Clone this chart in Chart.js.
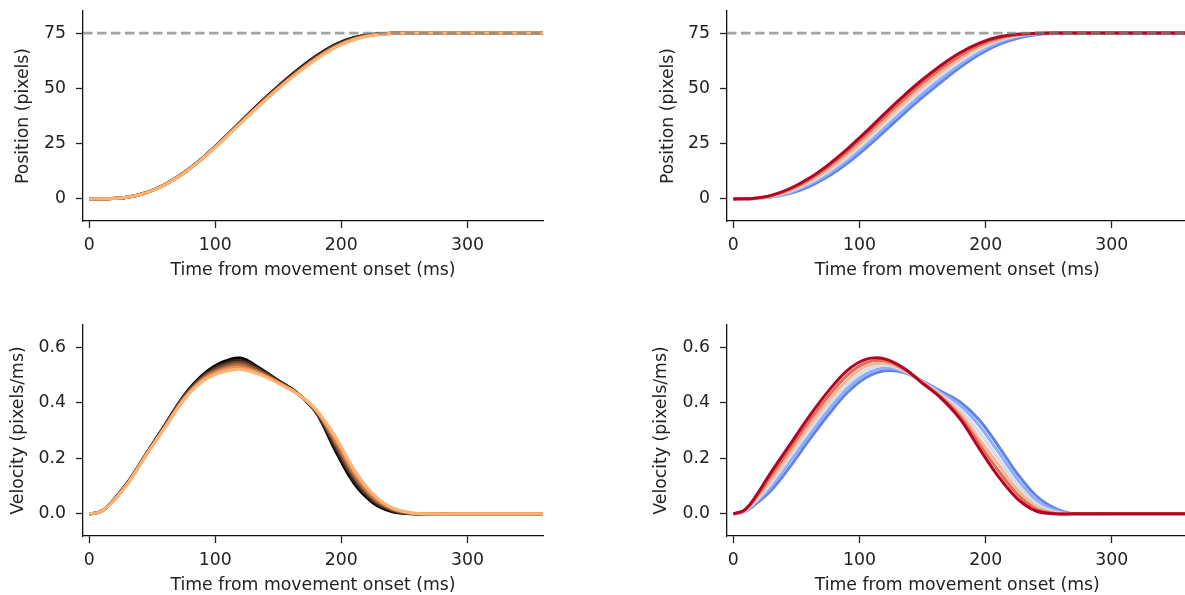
<!DOCTYPE html>
<html>
<head>
<meta charset="utf-8">
<script src="https://cdn.jsdelivr.net/npm/chart.js@4.4.0/dist/chart.umd.min.js"></script>
<style>
  html, body { margin: 0; padding: 0; background: #fff; width: 1185px; height: 595px; overflow: hidden; position: relative; }
  canvas { position: absolute; }
</style>
</head>
<body>
<canvas id="posA" width="560" height="300" style="left:0;top:0"></canvas>
<canvas id="posB" width="560" height="300" style="left:640px;top:0"></canvas>
<canvas id="velA" width="560" height="300" style="left:0;top:310px"></canvas>
<canvas id="velB" width="560" height="300" style="left:640px;top:310px"></canvas>
<script>
// sample times (ms from movement onset)
var times = [0, 8, 15, 30, 45, 60, 75, 90, 105, 120, 135, 150, 165, 180, 195, 210, 225, 240, 255, 270, 300, 330, 360];
var xTicks = [0, 100, 200, 300];
var posTicks = [0, 25, 50, 75];
var velTicks = [0, 0.2, 0.4, 0.6];
var targetPos = 75;

// left column, copper traces (dark -> light)
var leftPos = [
  [0, 0.02, 0.1, 0.7, 2.8, 6.5, 11.8, 18.6, 26.5, 34.9, 43.2, 51.0, 58.2, 64.6, 69.8, 73.0, 74.5, 74.95, 75, 75, 75, 75, 75],
  [0, 0.02, 0.1, 0.7, 2.8, 6.5, 11.8, 18.5, 26.4, 34.7, 43.0, 50.8, 57.9, 64.3, 69.5, 72.8, 74.4, 74.9, 75, 75, 75, 75, 75],
  [0, 0.02, 0.1, 0.7, 2.8, 6.5, 11.7, 18.5, 26.3, 34.6, 42.8, 50.5, 57.6, 64.0, 69.2, 72.6, 74.3, 74.9, 75, 75, 75, 75, 75],
  [0, 0.02, 0.1, 0.7, 2.7, 6.4, 11.7, 18.4, 26.2, 34.4, 42.6, 50.3, 57.3, 63.7, 68.9, 72.4, 74.2, 74.85, 75, 75, 75, 75, 75],
  [0, 0.02, 0.1, 0.7, 2.7, 6.4, 11.6, 18.4, 26.1, 34.3, 42.4, 50.0, 57.0, 63.4, 68.6, 72.2, 74.1, 74.8, 75, 75, 75, 75, 75],
  [0, 0.02, 0.1, 0.7, 2.7, 6.4, 11.6, 18.3, 26.0, 34.1, 42.2, 49.8, 56.8, 63.1, 68.4, 72.0, 74.0, 74.8, 75, 75, 75, 75, 75]
];
var leftVel = [
  [0, 0.006, 0.028, 0.11, 0.215, 0.32, 0.425, 0.5, 0.545, 0.561, 0.525, 0.48, 0.435, 0.365, 0.23, 0.11, 0.04, 0.008, 0, 0, 0, 0, 0],
  [0, 0.006, 0.028, 0.109, 0.214, 0.318, 0.422, 0.496, 0.538, 0.553, 0.521, 0.478, 0.434, 0.367, 0.24, 0.12, 0.046, 0.012, 0.001, 0, 0, 0, 0],
  [0, 0.006, 0.028, 0.108, 0.213, 0.316, 0.419, 0.491, 0.531, 0.545, 0.517, 0.476, 0.434, 0.369, 0.25, 0.13, 0.052, 0.015, 0.002, 0, 0, 0, 0],
  [0, 0.006, 0.027, 0.107, 0.212, 0.314, 0.416, 0.487, 0.524, 0.537, 0.51, 0.474, 0.433, 0.371, 0.26, 0.14, 0.058, 0.017, 0.002, 0, 0, 0, 0],
  [0, 0.006, 0.027, 0.106, 0.211, 0.312, 0.413, 0.482, 0.517, 0.528, 0.506, 0.472, 0.433, 0.373, 0.27, 0.15, 0.065, 0.02, 0.003, 0, 0, 0, 0],
  [0, 0.006, 0.027, 0.105, 0.21, 0.31, 0.41, 0.478, 0.51, 0.52, 0.502, 0.47, 0.432, 0.375, 0.28, 0.16, 0.072, 0.022, 0.004, 0, 0, 0, 0]
];

// right column, coolwarm traces (blue -> red)
var rightPos = [
  [0, 0.02, 0.1, 0.8, 2.5, 5.6, 10.1, 16.0, 23.0, 30.7, 38.5, 46.0, 53.0, 59.6, 65.3, 69.8, 72.7, 74.3, 74.9, 75, 75, 75, 75],
  [0, 0.03, 0.12, 0.95, 2.9, 6.4, 11.2, 17.3, 24.5, 32.3, 40.1, 47.6, 54.6, 61.0, 66.5, 70.7, 73.3, 74.6, 75, 75, 75, 75, 75],
  [0, 0.03, 0.14, 1.1, 3.4, 7.2, 12.3, 18.6, 26.0, 33.9, 41.8, 49.3, 56.1, 62.3, 67.6, 71.5, 73.8, 74.8, 75, 75, 75, 75, 75],
  [0, 0.04, 0.16, 1.25, 3.9, 8.0, 13.3, 19.9, 27.4, 35.5, 43.4, 50.9, 57.6, 63.6, 68.6, 72.1, 74.1, 74.85, 75, 75, 75, 75, 75],
  [0, 0.04, 0.18, 1.45, 4.3, 8.7, 14.4, 21.2, 28.9, 37.1, 45.0, 52.5, 59.1, 64.9, 69.6, 72.7, 74.3, 74.9, 75, 75, 75, 75, 75],
  [0, 0.05, 0.2, 1.6, 4.7, 9.3, 15.3, 22.4, 30.3, 38.6, 46.6, 54.0, 60.6, 66.2, 70.5, 73.2, 74.5, 74.9, 75, 75, 75, 75, 75]
];
var rightVel = [
  [0, 0.006, 0.025, 0.085, 0.17, 0.265, 0.355, 0.435, 0.49, 0.515, 0.51, 0.478, 0.44, 0.402, 0.338, 0.245, 0.145, 0.065, 0.02, 0, 0, 0, 0],
  [0, 0.007, 0.029, 0.098, 0.19, 0.282, 0.372, 0.45, 0.503, 0.525, 0.513, 0.477, 0.434, 0.39, 0.317, 0.223, 0.126, 0.05, 0.013, 0, 0, 0, 0],
  [0, 0.008, 0.033, 0.11, 0.205, 0.3, 0.388, 0.465, 0.517, 0.535, 0.516, 0.475, 0.428, 0.374, 0.293, 0.2, 0.106, 0.037, 0.007, 0, 0, 0, 0],
  [0, 0.009, 0.037, 0.123, 0.22, 0.317, 0.405, 0.481, 0.531, 0.543, 0.519, 0.474, 0.423, 0.36, 0.27, 0.178, 0.088, 0.026, 0.003, 0, 0, 0, 0],
  [0, 0.01, 0.041, 0.137, 0.235, 0.333, 0.422, 0.498, 0.544, 0.551, 0.522, 0.472, 0.419, 0.35, 0.252, 0.156, 0.071, 0.017, 0.001, 0, 0, 0, 0],
  [0, 0.011, 0.045, 0.15, 0.25, 0.35, 0.44, 0.515, 0.556, 0.558, 0.525, 0.47, 0.415, 0.34, 0.235, 0.135, 0.055, 0.01, 0, 0, 0, 0, 0]
];

var copper = ['#000000', 'rgb(57,36,23)', 'rgb(115,72,46)', 'rgb(172,108,68)', 'rgb(230,143,91)', 'rgb(255,179,114)'];
var coolwarm = ['rgb(98,130,234)', 'rgb(140,174,252)', 'rgb(214,219,230)', 'rgb(244,182,152)', 'rgb(226,108,84)', 'rgb(180,4,38)'];

var FONT = 'DejaVu Sans';
var TXT = '#222';
var xMin = -5, xMax = 360;

function panel(id, curves, colors, o) {
  var datasets = curves.map(function (vals, i) {
    var ds = {
      data: times.map(function (t, j) { return { x: t, y: vals[j] }; }),
      borderColor: colors[i],
      borderWidth: 3,
      pointRadius: 0,
      fill: false,
      order: curves.length - i
    };
    // position traces are monotone; velocity peaks need a rounded spline
    if (o.smooth === 'monotone') ds.cubicInterpolationMode = 'monotone';
    else ds.tension = 0.35;
    return ds;
  });
  if (o.target != null) {
    // reference line, drawn over the traces
    datasets.push({
      data: [{ x: xMin, y: o.target }, { x: xMax, y: o.target }],
      borderColor: 'rgba(128,128,128,0.72)',
      borderWidth: 2.6,
      borderDash: [9.5, 4.5],
      pointRadius: 0,
      order: 0
    });
  }
  var font = { family: FONT, size: 17.3 };
  return new Chart(document.getElementById(id), {
    type: 'line',
    data: { datasets: datasets },
    options: {
      responsive: false,
      animation: false,
      layout: { padding: { left: 0, top: o.pt, right: o.pr, bottom: 0 } },
      plugins: { legend: { display: false }, tooltip: { enabled: false } },
      scales: {
        x: {
          type: 'linear', min: xMin, max: xMax,
          afterBuildTicks: function (s) { s.ticks = xTicks.map(function (v) { return { value: v }; }); },
          afterFit: function (s) { s.height = o.xh; s.paddingLeft = 0; s.paddingRight = 0; },
          ticks: { font: font, color: TXT, padding: 7, maxRotation: 0, autoSkip: false },
          grid: { drawOnChartArea: false, drawTicks: true, tickLength: 7, tickColor: '#222', tickWidth: 1.3 },
          border: { display: true, color: '#111', width: 1.3 },
          title: { display: true, text: 'Time from movement onset (ms)', font: font, color: TXT, padding: { top: 0, bottom: o.xtp } }
        },
        y: {
          type: 'linear', min: o.yMin, max: o.yMax,
          afterBuildTicks: function (s) { s.ticks = o.yTicks.map(function (v) { return { value: v }; }); },
          afterFit: function (s) { s.width = o.yw; s.paddingTop = 0; s.paddingBottom = 0; },
          ticks: { font: font, color: TXT, padding: 10, autoSkip: false, callback: o.fmt },
          grid: { drawOnChartArea: false, drawTicks: true, tickLength: 7, tickColor: '#222', tickWidth: 1.3 },
          border: { display: true, color: '#111', width: 1.3 },
          title: { display: true, text: o.ylabel, font: font, color: TXT, padding: { top: o.ytp, bottom: 0 } }
        }
      }
    }
  });
}

var fmtPos = function (v) { return String(v); };
var fmtVel = function (v) { return v.toFixed(1); };

panel('posA', leftPos, copper, { smooth: 'monotone', target: targetPos, yMin: -10, yMax: 85, yTicks: posTicks, fmt: fmtPos, ylabel: 'Position (pixels)', pt: 11, pr: 17, yw: 83, xh: 79, xtp: 19, ytp: 13.5 });
panel('posB', rightPos, coolwarm, { smooth: 'monotone', target: targetPos, yMin: -10, yMax: 85, yTicks: posTicks, fmt: fmtPos, ylabel: 'Position (pixels)', pt: 11, pr: 12.5, yw: 87, xh: 79, xtp: 19, ytp: 17.8 });
panel('velA', leftVel, copper, { smooth: 'spline', target: null, yMin: -0.08, yMax: 0.68, yTicks: velTicks, fmt: fmtVel, ylabel: 'Velocity (pixels/ms)', pt: 15, pr: 17, yw: 83, xh: 74, xtp: 14, ytp: 8.2 });
panel('velB', rightVel, coolwarm, { smooth: 'spline', target: null, yMin: -0.08, yMax: 0.68, yTicks: velTicks, fmt: fmtVel, ylabel: 'Velocity (pixels/ms)', pt: 15, pr: 12.5, yw: 87, xh: 74, xtp: 14, ytp: 11.3 });
</script>
</body>
</html>
